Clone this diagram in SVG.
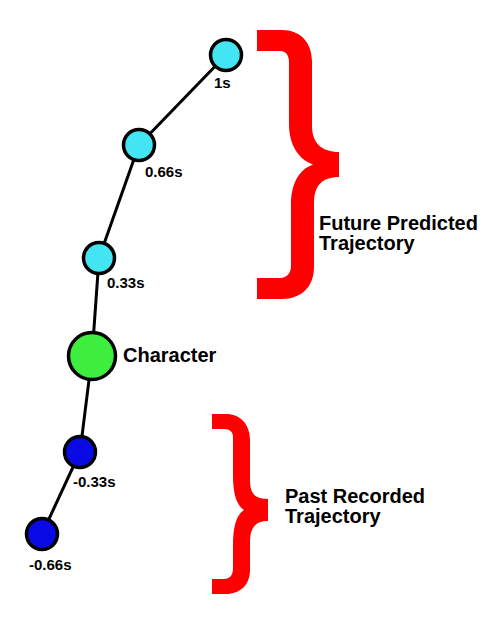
<svg xmlns="http://www.w3.org/2000/svg" width="494" height="619" viewBox="0 0 494 619">
<style>
.edge{stroke:#000;stroke-width:3;fill:none}
.node{stroke:#000;stroke-width:3.5}
.fut{fill:#44E5F2}
.chr{fill:#3EEE3E}
.past{fill:#0A0AE6}
.lbl{font-family:"Liberation Sans",Arial,sans-serif;font-weight:bold;fill:#000}
.sm{font-size:15px}
.big{font-size:20px}
.brace{fill:#FF0000}
</style>
<rect width="494" height="619" fill="#fff"/>
<g id="connectors">
<line class="edge" x1="226" y1="55" x2="139" y2="145"/>
<line class="edge" x1="139" y1="145" x2="99" y2="258"/>
<line class="edge" x1="99" y1="258" x2="92" y2="356"/>
<line class="edge" x1="92" y1="356" x2="80" y2="452"/>
<line class="edge" x1="80" y1="452" x2="42" y2="534"/>
</g>
<g id="node-1s">
<circle class="node fut" cx="226" cy="55" r="15.5"/>
<text class="lbl sm" x="214" y="88">1s</text>
</g>
<g id="node-066s">
<circle class="node fut" cx="139" cy="145" r="15.5"/>
<text class="lbl sm" x="145" y="177">0.66s</text>
</g>
<g id="node-033s">
<circle class="node fut" cx="99" cy="258" r="15.5"/>
<text class="lbl sm" x="107" y="288">0.33s</text>
</g>
<g id="node-character">
<circle class="node chr" cx="92" cy="356" r="23.5"/>
<text class="lbl big" x="123" y="362">Character</text>
</g>
<g id="node-m033s">
<circle class="node past" cx="80" cy="452" r="15.5"/>
<text class="lbl sm" x="73" y="487">-0.33s</text>
</g>
<g id="node-m066s">
<circle class="node past" cx="42" cy="534" r="15.5"/>
<text class="lbl sm" x="29" y="570">-0.66s</text>
</g>
<g id="future-brace">
<path class="brace" d="M257,30 H282 C300,30 312,42 312,62 V126 C312,143 322,152 339,152 V177 C322,177 314,186 314,203 V267 C314,287 301,299 282,299 H257 V278 H280 C286,278 291,274 291,266 V205 C291,185 298,170 313,164.5 C298,159 289,144 289,124 V63 C289,55 286,51 280,51 H257 Z"/>
<text class="lbl big" x="319" y="230">Future Predicted</text>
<text class="lbl big" x="319" y="250">Trajectory</text>
</g>
<g id="past-brace">
<path class="brace" d="M212,414 H226 C240,414 250,424 250,440 V480 C250,495 256,499 268,499 V521 C256,521 250,527 250,542 V570 C250,585 240,594 226,594 H212 V579 H224 C230,579 233,575 233,568 V545 C233,528 236,515 244,510 C236,505 233,492 233,476 V437 C233,432 230,429 224,429 H212 Z"/>
<text class="lbl big" x="285" y="503">Past Recorded</text>
<text class="lbl big" x="285" y="523">Trajectory</text>
</g>
</svg>
